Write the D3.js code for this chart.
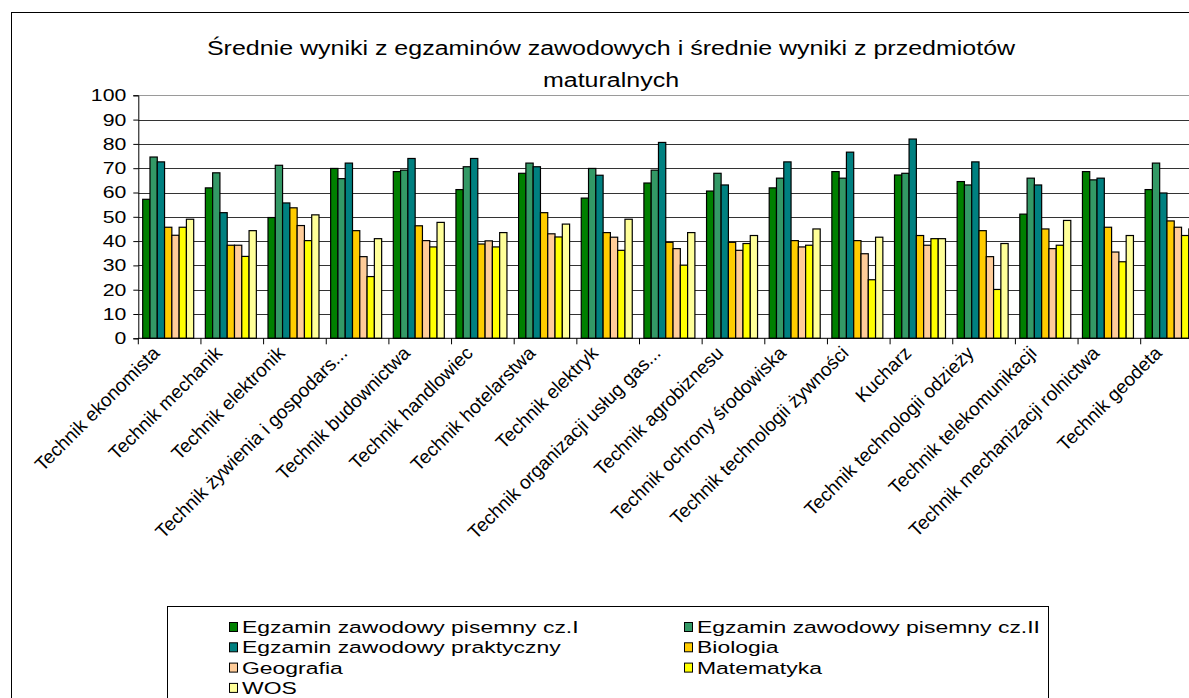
<!DOCTYPE html>
<html>
<head>
<meta charset="utf-8">
<script src="https://cdn.jsdelivr.net/npm/d3@7"></script>
<style>
	body { margin: 0; background: #fff; }
	svg { display: block; font-family: 'Liberation Sans', Arial, sans-serif; }
</style>
</head>
<body>
<svg id="chart" width="1189" height="698"></svg>
<script>
const categories = [
	'Technik ekonomista', 'Technik mechanik', 'Technik elektronik', 'Technik żywienia i gospodars...',
	'Technik budownictwa', 'Technik handlowiec', 'Technik hotelarstwa', 'Technik elektryk',
	'Technik organizacji usług gas...', 'Technik agrobiznesu', 'Technik ochrony środowiska',
	'Technik technologii żywności', 'Kucharz', 'Technik technologii odzieży', 'Technik telekomunikacji',
	'Technik mechanizacji rolnictwa', 'Technik geodeta'
]

const seriesNames = [
	'Egzamin zawodowy pisemny cz.I', 'Egzamin zawodowy pisemny cz.II', 'Egzamin zawodowy praktyczny',
	'Biologia', 'Geografia', 'Matematyka', 'WOS'
]

const pisemny1 = [57.2, 61.9, 49.7, 69.9, 68.6, 61.2, 67.9, 57.7, 63.9, 60.6, 61.9, 68.6, 67.2, 64.5, 51.1, 68.6, 61.2]
const pisemny2 = [74.6, 68.1, 71.2, 65.7, 69.2, 70.6, 72.1, 69.9, 69.2, 67.9, 65.9, 65.9, 67.9, 63.1, 65.9, 65.2, 72.1]
const praktyczny = [72.6, 51.7, 55.7, 72.1, 74.0, 74.0, 70.6, 67.1, 80.6, 63.1, 72.6, 76.6, 82.0, 72.6, 63.1, 65.9, 59.8]
const biologia = [45.7, 38.3, 53.7, 44.3, 46.3, 38.8, 51.7, 43.5, 39.5, 39.5, 40.2, 40.2, 42.3, 44.3, 45.0, 45.7, 48.3]
const geografia = [42.4, 38.3, 46.4, 33.6, 40.2, 40.1, 43.0, 41.6, 36.9, 36.2, 37.6, 34.8, 38.3, 33.6, 36.9, 35.5, 45.7]
const matematyka = [45.7, 33.7, 40.2, 25.4, 37.6, 37.6, 41.7, 36.2, 30.1, 39.0, 38.3, 24.1, 41.0, 20.1, 38.3, 31.5, 42.3]
const wos = [49.0, 44.3, 50.8, 41.0, 47.7, 43.5, 47.0, 49.0, 43.5, 42.3, 45.0, 41.6, 41.0, 39.0, 48.5, 42.3, 45.0]

const yTicks = [0, 10, 20, 30, 40, 50, 60, 70, 80, 90, 100]
const colors = ['#008000', '#339966', '#008080', '#ffcc00', '#ffcc99', '#ffff00', '#ffff99']

const seriesValues = [pisemny1, pisemny2, praktyczny, biologia, geografia, matematyka, wos]

// the source picture is a bit stretched sideways, so the text is widened to match
const stretch = 1.25
const legendStretch = 1.35

const svg = d3.select('#chart')

// chart frame (runs off the right and bottom edge like the original screenshot)
svg.append('rect')
	.attr('x', 11.5).attr('y', 12.5)
	.attr('width', 1300).attr('height', 800)
	.attr('fill', '#fff').attr('stroke', '#000').attr('stroke-width', 1)

const title = svg.append('g').attr('font-size', 20).attr('fill', '#000')
title.append('text')
	.attr('transform', `translate(611,55) scale(${stretch},1)`)
	.attr('text-anchor', 'middle')
	.text('Średnie wyniki z egzaminów zawodowych i średnie wyniki z przedmiotów')
title.append('text')
	.attr('transform', `translate(611,87) scale(${stretch},1)`)
	.attr('text-anchor', 'middle')
	.text('maturalnych')

const left = 138.3
const groupW = 62.65

const x0 = d3.scaleBand()
	.domain(categories)
	.range([left, left + groupW * categories.length])
	.padding(0)

const x1 = d3.scaleBand()
	.domain(seriesNames)
	.range([4.4, 55.4])
	.padding(0)

const y = d3.scaleLinear().domain([0, 100]).range([338.3, 95.3])

// grid
svg.append('g')
	.selectAll('line')
	.data(yTicks.filter(t => t > 0))
	.join('line')
	.attr('x1', left).attr('x2', 1300)
	.attr('y1', d => Math.round(y(d)) + 0.5)
	.attr('y2', d => Math.round(y(d)) + 0.5)
	.attr('stroke', d => d == 100 ? '#9a9a9a' : '#333')
	.attr('stroke-width', 1)

// bars
const groups = svg.append('g')
	.selectAll('g')
	.data(categories)
	.join('g')
	.attr('transform', d => `translate(${x0(d)},0)`)

groups.selectAll('rect')
	.data((d, i) => seriesNames.map((s, j) => ({ s, j, v: seriesValues[j][i] })))
	.join('rect')
	.attr('x', d => x1(d.s))
	.attr('y', d => y(d.v))
	.attr('width', x1.bandwidth())
	.attr('height', d => y(0) - y(d.v))
	.attr('fill', d => colors[d.j])
	.attr('stroke', '#000')
	.attr('stroke-width', 1.2)

// y axis
const yAxis = svg.append('g')
	.attr('transform', `translate(${left},0)`)
	.call(d3.axisLeft(y).tickValues(yTicks).tickSize(5).tickPadding(0))
yAxis.select('.domain').attr('stroke', '#000')
yAxis.selectAll('.tick line').attr('stroke', '#000')
yAxis.selectAll('.tick text')
	.attr('x', null)
	.attr('transform', `translate(-12,0) scale(${stretch},1)`)
	.attr('font-size', 17).attr('fill', '#000')
	.attr('font-family', "'Liberation Sans', Arial, sans-serif")

// x axis line and tick marks on category boundaries
const boundaries = d3.range(categories.length + 1).map(i => left + i * groupW)
svg.append('line')
	.attr('x1', left).attr('x2', 1300)
	.attr('y1', y(0)).attr('y2', y(0))
	.attr('stroke', '#000')
svg.append('g')
	.selectAll('line')
	.data(boundaries)
	.join('line')
	.attr('x1', d => d).attr('x2', d => d)
	.attr('y1', y(0)).attr('y2', y(0) + 6)
	.attr('stroke', '#000')

// category labels, rotated
svg.append('g')
	.selectAll('text')
	.data(categories)
	.join('text')
	.attr('transform', d => `translate(${x0(d) + groupW / 2 - 9},${y(0) + 16}) rotate(-45)`)
	.attr('text-anchor', 'end')
	.attr('font-size', 19)
	.attr('fill', '#000')
	.text(d => d)

// legend
svg.append('rect')
	.attr('x', 167.5).attr('y', 606.5)
	.attr('width', 881).attr('height', 120)
	.attr('fill', '#fff').attr('stroke', '#000')

const legendPos = seriesNames.map((s, i) => ({
	s,
	i,
	lx: i % 2 == 0 ? 229 : 684,
	ly: 627 + Math.floor(i / 2) * 20.3
}))

const legend = svg.append('g')
	.selectAll('g')
	.data(legendPos)
	.join('g')
	.attr('transform', d => `translate(${d.lx},${d.ly})`)

legend.append('rect')
	.attr('x', 0.5).attr('y', -4.5)
	.attr('width', 8).attr('height', 9)
	.attr('fill', d => colors[d.i])
	.attr('stroke', '#000')
	.attr('stroke-width', 1)

legend.append('text')
	.attr('transform', `translate(13,6) scale(${legendStretch},1)`)
	.attr('font-size', 17)
	.attr('fill', '#000')
	.text(d => d.s)
</script>
</body>
</html>
